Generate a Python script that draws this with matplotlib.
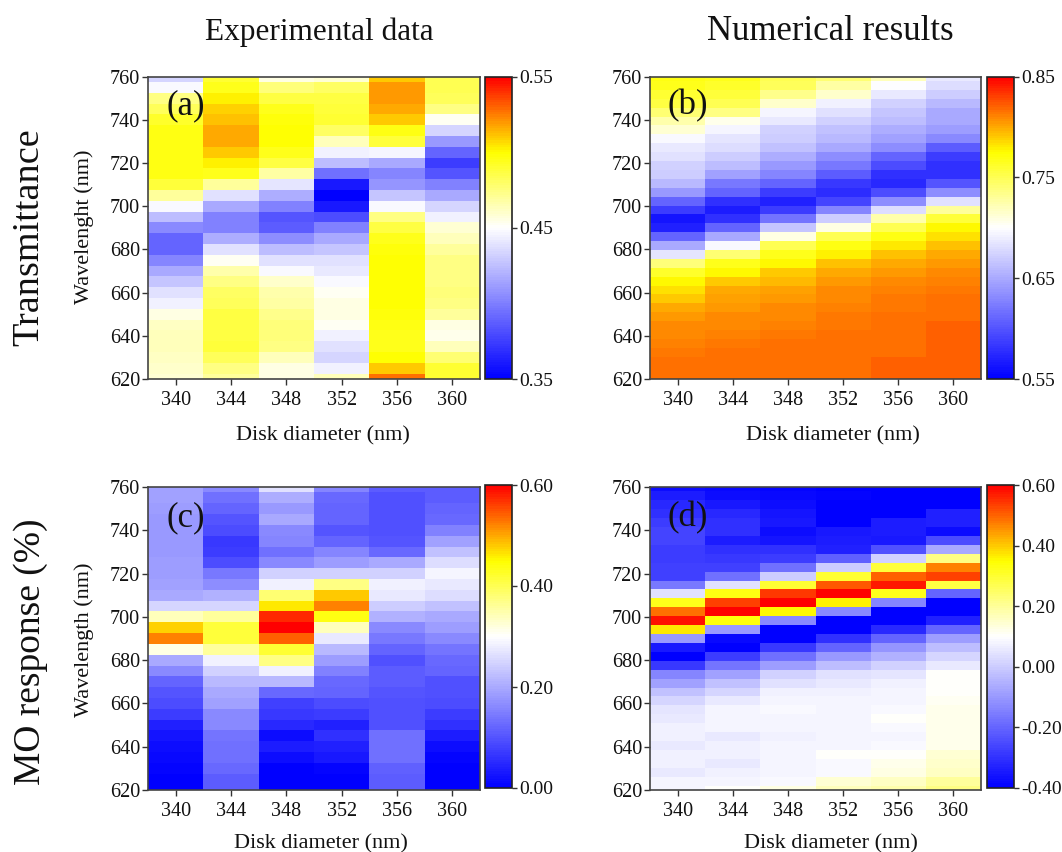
# -*- coding: utf-8 -*-
import numpy as np
import matplotlib
matplotlib.use('Agg')
import matplotlib.pyplot as plt
from matplotlib.colors import LinearSegmentedColormap

plt.rcParams['font.family'] = ['Liberation Serif', 'DejaVu Serif']

W, H = 1062, 852

diameters = [340, 344, 348, 352, 356, 360]
wl_ticks = [620, 640, 660, 680, 700, 720, 740, 760]

# experimental panels were sampled every 5 nm, simulations on 35 points
wl_exp = np.arange(760, 615, -5)
wl_num = np.linspace(760, 620, 35)

# every list below runs from 760 nm down to 620 nm
trans_exp_340 = [.434, .448, .474, .482, .492, .496, .496, .496, .496, .496, .488, .470, .448, .424, .404, .390, .390, .402, .416, .428, .438, .444, .456, .462, .464, .464, .462, .460, .458]
trans_exp_344 = [.490, .494, .502, .508, .512, .516, .516, .510, .502, .494, .470, .438, .416, .400, .400, .418, .438, .452, .466, .474, .480, .482, .486, .486, .486, .488, .482, .474, .470]
trans_exp_348 = [.456, .476, .486, .494, .498, .500, .500, .494, .486, .468, .440, .418, .400, .384, .386, .406, .424, .438, .448, .460, .466, .468, .472, .476, .476, .474, .464, .456, .456]
trans_exp_352 = [.458, .480, .486, .488, .490, .480, .464, .444, .424, .394, .360, .350, .360, .380, .400, .416, .428, .438, .442, .448, .452, .456, .456, .452, .444, .438, .434, .444, .464]
trans_exp_356 = [.510, .520, .520, .516, .510, .496, .488, .446, .416, .402, .408, .428, .448, .474, .486, .494, .498, .500, .500, .500, .500, .500, .498, .496, .494, .494, .500, .510, .528]
trans_exp_360 = [.484, .484, .482, .474, .452, .434, .410, .390, .374, .384, .400, .416, .434, .444, .458, .464, .470, .474, .474, .474, .476, .474, .470, .456, .454, .464, .478, .490, .490]

trans_num_340 = [.769, .766, .760, .754, .742, .724, .712, .697, .688, .682, .673, .670, .658, .640, .610, .586, .562, .571, .610, .649, .685, .739, .763, .775, .784, .790, .799, .805, .808, .808, .811, .814, .817, .817, .817]
trans_num_344 = [.766, .763, .757, .751, .736, .706, .694, .685, .679, .670, .661, .646, .622, .610, .580, .568, .580, .610, .649, .697, .742, .766, .775, .790, .799, .802, .805, .808, .808, .811, .814, .817, .817, .817, .817]
trans_num_348 = [.751, .748, .733, .715, .694, .688, .673, .670, .664, .652, .640, .628, .610, .586, .571, .586, .619, .667, .709, .751, .766, .775, .790, .796, .802, .805, .808, .808, .811, .814, .817, .817, .817, .817, .817]
trans_num_352 = [.742, .727, .715, .691, .682, .673, .664, .658, .649, .634, .622, .604, .583, .577, .592, .628, .670, .709, .751, .769, .778, .793, .799, .805, .808, .808, .811, .814, .814, .817, .817, .817, .817, .817, .817]
trans_num_356 = [.721, .700, .688, .673, .667, .661, .652, .646, .634, .610, .595, .580, .574, .595, .634, .679, .724, .751, .769, .781, .793, .799, .805, .808, .811, .814, .814, .817, .817, .817, .817, .817, .820, .820, .820]
trans_num_360 = [.688, .679, .670, .658, .649, .649, .643, .631, .604, .586, .580, .580, .601, .634, .682, .730, .757, .775, .784, .793, .799, .805, .808, .811, .814, .817, .817, .817, .820, .820, .820, .820, .820, .820, .820]

mo_exp_340 = [.192, .192, .186, .18, .18, .18, .18, .186, .186, .192, .198, .252, .342, .474, .522, .318, .198, .162, .12, .102, .09, .072, .042, .024, .018, .012, .006, 0, 0]
mo_exp_344 = [.162, .132, .12, .102, .09, .066, .072, .09, .144, .168, .21, .252, .36, .414, .414, .36, .282, .246, .216, .198, .192, .162, .162, .138, .132, .132, .126, .108, .108]
mo_exp_348 = [.264, .204, .18, .198, .162, .156, .132, .162, .246, .282, .384, .462, .576, .6, .54, .42, .372, .282, .216, .126, .078, .066, .048, .018, .036, .018, 0, 0, 0]
mo_exp_352 = [.156, .126, .12, .12, .102, .12, .156, .186, .246, .372, .48, .522, .438, .342, .276, .216, .186, .15, .126, .12, .09, .072, .042, .06, .042, .03, .006, 0, 0]
mo_exp_356 = [.108, .096, .096, .096, .096, .102, .126, .198, .246, .282, .276, .24, .21, .162, .144, .12, .096, .108, .108, .102, .096, .096, .096, .132, .132, .132, .114, .108, .108]
mo_exp_360 = [.108, .108, .12, .126, .15, .192, .228, .258, .288, .276, .258, .228, .198, .186, .162, .138, .126, .12, .096, .096, .09, .072, .06, .036, .018, .006, 0, 0, 0]

mo_num_340 = [-.37, -.34, -.32, -.30, -.28, -.26, -.26, -.28, -.28, -.27, -.27, -.16, .04, .32, .49, .58, .37, -.10, -.35, -.40, -.29, -.14, -.08, -.02, .02, .05, .06, .07, .07, .06, .07, .07, .06, .08, .08]
mo_num_344 = [-.38, -.37, -.35, -.32, -.30, -.30, -.34, -.30, -.29, -.27, -.18, .04, .33, .53, .60, .34, -.10, -.38, -.40, -.28, -.17, -.08, -.02, .02, .06, .08, .08, .08, .06, .07, .07, .06, .07, .08, .10]
mo_num_348 = [-.39, -.38, -.37, -.36, -.35, -.37, -.36, -.30, -.28, -.18, 0, .30, .54, .60, .35, -.13, -.40, -.40, -.29, -.18, -.09, .01, .04, .07, .08, .09, .08, .08, .07, .08, .08, .08, .08, .09, .13]
mo_num_352 = [-.40, -.39, -.40, -.40, -.40, -.35, -.34, -.33, -.21, 0, .30, .51, .60, .36, -.13, -.40, -.40, -.30, -.20, -.10, -.03, .04, .06, .07, .08, .08, .08, .08, .08, .08, .10, .09, .09, .14, .17]
mo_num_356 = [-.40, -.40, -.40, -.40, -.34, -.34, -.35, -.24, .01, .29, .50, .57, .32, -.14, -.40, -.40, -.32, -.20, -.11, -.05, .01, .05, .07, .08, .08, .09, .10, .09, .08, .09, .10, .12, .13, .16, .18]
mo_num_360 = [-.40, -.40, -.40, -.33, -.33, -.37, -.25, -.07, .22, .47, .53, .28, -.20, -.40, -.40, -.33, -.20, -.09, -.03, .02, .06, .10, .10, .10, .11, .12, .12, .12, .12, .12, .14, .15, .16, .20, .22]

cb_a = ['0.35', '0.45', '0.55']
cb_b = ['0.55', '0.65', '0.75', '0.85']
cb_c = ['0.00', '0.20', '0.40', '0.60']
cb_d = ['-0.40', '-0.20', '0.00', '0.20', '0.40', '0.60']

cmap = LinearSegmentedColormap.from_list(
    'bwyr', [(0, '#0000ff'), (.5, '#ffffff'), (.75, '#ffff00'), (1, '#ff0000')], N=128)

fig = plt.figure(figsize=(W / 100, H / 100), dpi=100)


def px_axes(left, top, right, bottom):
    return fig.add_axes([left / W, 1 - bottom / H, (right - left) / W, (bottom - top) / H])


def put_text(x, y, s, size, rot=0):
    fig.text(x / W, 1 - y / H, s, fontsize=size, rotation=rot, ha='center', va='center', color='#111111')


def panel(box, cbox, wl, columns, cb_labels, tag, tag_x, tag_y):
    ax = px_axes(*box)
    z = np.array(columns).T
    lo, hi = float(cb_labels[0]), float(cb_labels[-1])
    mesh = ax.pcolormesh(diameters, wl, z, cmap=cmap, vmin=lo, vmax=hi, shading='nearest')
    ax.set_xlim(338, 362)
    ax.set_ylim(620, 760)
    ax.set_xticks(diameters)
    ax.set_yticks(wl_ticks)
    ax.tick_params(labelsize=14.5, length=4.3, width=1, color='#333333', labelcolor='#111111')
    ax.tick_params(axis='y', pad=1.5)
    ax.tick_params(axis='x', pad=4)
    for s in ax.spines.values():
        s.set_color('#444444')
        s.set_linewidth(1.2)

    cax = px_axes(*cbox)
    cbar = fig.colorbar(mesh, cax=cax, ticks=[float(t) for t in cb_labels])
    cbar.ax.set_yticklabels(cb_labels)
    cbar.ax.tick_params(labelsize=14, length=3.6, width=1, color='#333333', labelcolor='#111111', pad=1.5)
    cbar.outline.set_edgecolor('#222222')
    cbar.outline.set_linewidth(1.2)

    put_text(tag_x, tag_y, tag, 25)


panel((148, 76.5, 480, 379), (484.5, 76.5, 512, 379), wl_exp,
      [trans_exp_340, trans_exp_344, trans_exp_348, trans_exp_352, trans_exp_356, trans_exp_360],
      cb_a, '(a)', 186, 106)
panel((650, 76.5, 981, 379), (987, 76.5, 1014, 379), wl_num,
      [trans_num_340, trans_num_344, trans_num_348, trans_num_352, trans_num_356, trans_num_360],
      cb_b, '(b)', 688, 106)
panel((148, 487, 480, 790), (484.5, 485, 512, 788), wl_exp,
      [mo_exp_340, mo_exp_344, mo_exp_348, mo_exp_352, mo_exp_356, mo_exp_360],
      cb_c, '(c)', 186, 518)
panel((650, 487, 981, 790), (987, 485, 1014, 788), wl_num,
      [mo_num_340, mo_num_344, mo_num_348, mo_num_352, mo_num_356, mo_num_360],
      cb_d, '(d)', 688, 518)

put_text(319.5, 32, 'Experimental data', 22.5)
put_text(830, 32, 'Numerical results', 25)
put_text(29, 237, 'Transmittance', 27.5, 90)
put_text(31, 652, 'MO response (%)', 27, 90)
put_text(84, 227, 'Wavelenght (nm)', 16, 90)
put_text(84, 640, 'Wavelength (nm)', 16, 90)
put_text(323, 436, 'Disk diameter (nm)', 16)
put_text(833, 436, 'Disk diameter (nm)', 16)
put_text(320.5, 844, 'Disk diameter (nm)', 16)
put_text(831, 844, 'Disk diameter (nm)', 16)

fig.savefig('out.png', dpi=100)
